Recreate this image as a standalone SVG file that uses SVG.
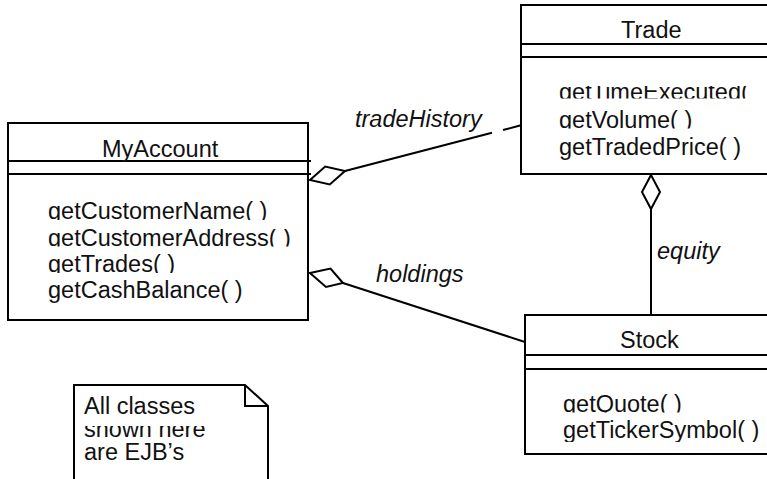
<svg xmlns="http://www.w3.org/2000/svg" width="767" height="479" viewBox="0 0 767 479">
  <style>
    .box { fill: #ffffff; stroke: #000000; stroke-width: 2; }
    .rule { stroke: #000000; stroke-width: 2; fill: none; }
    .txt { font-family: "Liberation Sans", Arial, sans-serif; font-size: 23.5px; fill: #111111; }
    .role { font-family: "Liberation Sans", Arial, sans-serif; font-size: 23.5px; font-style: italic; fill: #111111; }
    .edge { stroke: #000000; stroke-width: 2; fill: none; }
    .agg { fill: #ffffff; stroke: #000000; stroke-width: 2; stroke-linejoin: miter; }
  </style>
  <defs>
    <!-- each operation line is cropped to its own text band -->
    <clipPath id="ma1" clipPathUnits="userSpaceOnUse"><rect x="40" y="195" width="265" height="25"/></clipPath>
    <clipPath id="ma2" clipPathUnits="userSpaceOnUse"><rect x="40" y="229" width="265" height="17.5"/></clipPath>
    <clipPath id="ma3" clipPathUnits="userSpaceOnUse"><rect x="40" y="250" width="265" height="23"/></clipPath>
    <clipPath id="ma4" clipPathUnits="userSpaceOnUse"><rect x="40" y="276" width="265" height="27"/></clipPath>
    <clipPath id="tr1" clipPathUnits="userSpaceOnUse"><rect x="550" y="86" width="215" height="12.5"/></clipPath>
    <clipPath id="tr2" clipPathUnits="userSpaceOnUse"><rect x="550" y="104" width="215" height="24.5"/></clipPath>
    <clipPath id="tr3" clipPathUnits="userSpaceOnUse"><rect x="550" y="131" width="215" height="29"/></clipPath>
    <clipPath id="st1" clipPathUnits="userSpaceOnUse"><rect x="555" y="388" width="210" height="24.5"/></clipPath>
    <clipPath id="st2" clipPathUnits="userSpaceOnUse"><rect x="555" y="415" width="210" height="27"/></clipPath>
    <clipPath id="nt2" clipPathUnits="userSpaceOnUse"><rect x="78" y="426" width="170" height="11.5"/></clipPath>
  </defs>

  <rect width="767" height="479" fill="#ffffff"/>

  <!-- associations -->
  <g id="connectors">
    <!-- tradeHistory: MyAccount <>—— Trade (broken where the role name sits) -->
    <line class="edge" x1="345" y1="171" x2="492" y2="132.7"/>
    <line class="edge" x1="503" y1="130" x2="521" y2="125.3"/>
    <polygon class="agg" points="310,180 325.2,166.6 345,171 329.8,184.4"/>
    <text class="role" x="355" y="127">tradeHistory</text>

    <!-- holdings: MyAccount <>—— Stock -->
    <line class="edge" x1="343" y1="283" x2="525" y2="342"/>
    <polygon class="agg" points="310,273 330.5,268.5 343,283 326,287"/>
    <text class="role" x="376" y="282">holdings</text>

    <!-- equity: Trade <>—— Stock -->
    <line class="edge" x1="651" y1="209" x2="651" y2="315"/>
    <polygon class="agg" points="651,175 660,192 651,209 642,192"/>
    <text class="role" x="657" y="259">equity</text>
  </g>

  <!-- MyAccount class -->
  <g id="MyAccount">
    <rect class="box" x="8" y="123" width="300" height="197"/>
    <line class="rule" x1="8" y1="161" x2="311" y2="161"/>
    <line class="rule" x1="8" y1="174" x2="311" y2="174"/>
    <text class="txt" x="102" y="157">MyAccount</text>
    <text class="txt" x="48" y="219" clip-path="url(#ma1)">getCustomerName( )</text>
    <text class="txt" x="48" y="245.5" clip-path="url(#ma2)">getCustomerAddress( )</text>
    <text class="txt" x="48" y="272" clip-path="url(#ma3)">getTrades( )</text>
    <text class="txt" x="48" y="298" clip-path="url(#ma4)">getCashBalance( )</text>
  </g>

  <!-- Trade class (runs past the right edge) -->
  <g id="Trade">
    <rect class="box" x="521" y="5" width="270" height="169"/>
    <line class="rule" x1="521" y1="44" x2="791" y2="44"/>
    <line class="rule" x1="521" y1="57" x2="791" y2="57"/>
    <text class="txt" x="621" y="38">Trade</text>
    <text class="txt" x="559" y="100" clip-path="url(#tr1)">getTimeExecuted(</text>
    <text class="txt" x="559" y="127.5" clip-path="url(#tr2)">getVolume( )</text>
    <text class="txt" x="559" y="155" clip-path="url(#tr3)">getTradedPrice( )</text>
  </g>

  <!-- Stock class (runs past the right edge) -->
  <g id="Stock">
    <rect class="box" x="525" y="315" width="260" height="139"/>
    <line class="rule" x1="525" y1="355" x2="785" y2="355"/>
    <line class="rule" x1="525" y1="369" x2="785" y2="369"/>
    <text class="txt" x="620" y="348">Stock</text>
    <text class="txt" x="563" y="411.5" clip-path="url(#st1)">getQuote( )</text>
    <text class="txt" x="563" y="438" clip-path="url(#st2)">getTickerSymbol( )</text>
  </g>

  <!-- note with folded corner, continuing below the bottom edge -->
  <g id="note">
    <path class="box" d="M74,490 L74,385 L245,385 L268,406 L268,490"/>
    <path class="rule" d="M245,385 L245,406 L268,406"/>
    <text class="txt" x="84" y="413.5">All classes</text>
    <text class="txt" x="84" y="437" clip-path="url(#nt2)">shown here</text>
    <text class="txt" x="84" y="459.5">are EJB’s</text>
  </g>
</svg>
